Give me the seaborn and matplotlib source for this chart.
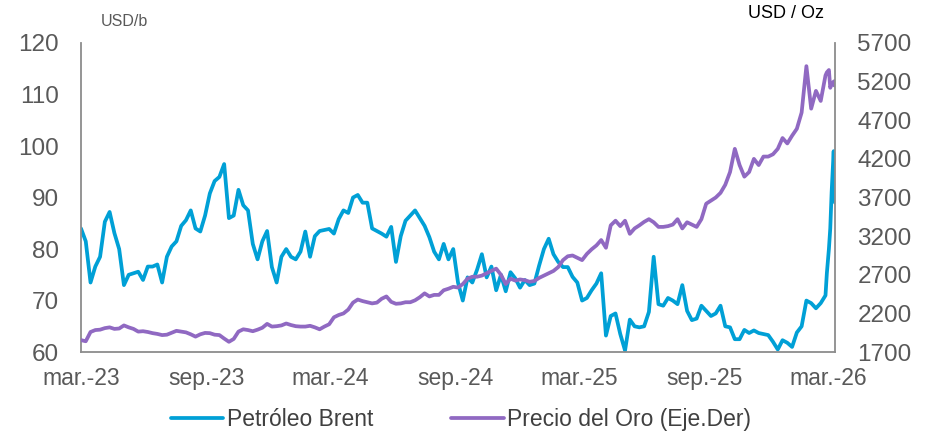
import matplotlib
matplotlib.use("Agg")
import matplotlib.pyplot as plt
import seaborn as sns
import pandas as pd
import numpy as np

# ---------------- data ----------------
brent_weekly = [
    84.0, 81.5, 73.5, 76.6, 78.5, 85.3, 87.2, 83.1, 80.0, 73.0,
    75.0, 75.3, 75.6, 74.0, 76.6, 76.6, 77.0, 73.5, 78.5, 80.5,
    81.5, 84.5, 85.6, 87.5, 84.0, 83.4, 86.5, 90.8, 93.2, 94.0,
    96.5, 86.0, 86.5, 91.5, 88.5, 87.5, 81.0, 78.0, 81.5, 83.5,
    76.5, 73.5, 78.5, 80.0, 78.5, 78.0, 79.5, 83.4, 78.5, 82.5,
    83.5, 83.7, 83.9, 83.0, 85.8, 87.5, 87.0, 90.0, 90.5, 89.0,
    89.0, 84.0, 83.5, 83.0, 82.4, 84.3, 77.5, 82.5, 85.5, 86.5,
    87.5, 86.0, 84.5, 82.3, 79.5, 78.0, 81.0, 78.0, 80.0, 73.5,
    70.0, 74.5, 73.5, 76.0, 79.0, 74.5, 76.6, 72.0, 75.0, 71.8,
    75.5, 74.3, 72.5, 74.0, 73.0, 73.3, 76.8, 80.0, 82.0, 79.0,
    77.5, 76.5, 76.5, 74.6, 73.5, 70.0, 70.5, 72.0, 73.3, 75.3,
    63.2, 67.0, 67.5, 63.5, 60.3, 66.3, 65.0, 64.8, 65.0, 67.8,
    78.5, 69.3, 69.0, 70.5, 70.0, 69.3, 73.0, 68.0, 66.2, 66.5,
    69.0, 68.0, 67.0, 67.5, 69.0, 65.0, 64.8, 62.5, 62.5, 64.3,
    63.7, 64.2, 63.7, 63.5, 63.3, 62.0, 60.5, 62.3, 61.8, 61.0,
    63.8, 65.0, 70.0, 69.5, 68.5, 69.5, 71.0,
]
gold_weekly = [
    1855, 1840, 1960, 1985, 1990, 2010, 2020, 2000, 2005, 2045,
    2020, 2000, 1965, 1970, 1960, 1945, 1935, 1920, 1925, 1950,
    1975, 1965, 1955, 1930, 1900, 1930, 1948, 1945, 1925, 1920,
    1875, 1833, 1870, 1965, 1995, 1985, 1970, 1990, 2015, 2065,
    2030, 2035, 2045, 2070, 2050, 2035, 2030, 2030, 2040, 2020,
    1995, 2030, 2060, 2150, 2180, 2200, 2250, 2340, 2380, 2360,
    2345, 2330, 2340, 2390, 2420, 2350, 2325, 2330, 2345, 2345,
    2370, 2410, 2460, 2420, 2440, 2440, 2500, 2520, 2545, 2535,
    2580, 2650, 2675, 2675, 2690, 2720, 2750, 2780, 2700, 2580,
    2650, 2625, 2640, 2630, 2610, 2620, 2660, 2690, 2720, 2750,
    2800, 2890, 2940, 2950, 2920, 2890, 2970, 3030, 3080, 3150,
    3050, 3340, 3400, 3330, 3400, 3230, 3300, 3340, 3385, 3420,
    3380, 3320, 3320, 3330, 3350, 3420, 3300, 3380, 3350, 3320,
    3420, 3620, 3660, 3700, 3760, 3865, 4030, 4330, 4120, 3970,
    4030, 4200, 4120, 4230, 4230, 4260, 4330, 4470, 4400, 4500,
    4590, 4800, 5400, 4850, 5080, 4950, 5280,
]
tail_dates = ["2026-02-27", "2026-03-02", "2026-03-04", "2026-03-06",
              "2026-03-09", "2026-03-10", "2026-03-11"]
brent_tail = [75.3, 80.0, 84.0, 91.0, 99.0, 93.0, 89.0]
gold_tail = [5320, 5350, 5120, 5170, 5200, 5150, 5210]

tick_dates = ["2023-03-01", "2023-09-01", "2024-03-01", "2024-09-01",
              "2025-03-01", "2025-09-01", "2026-03-01"]
tick_labels = ["mar.-23", "sep.-23", "mar.-24", "sep.-24",
               "mar.-25", "sep.-25", "mar.-26"]
left_ticks = [60, 70, 80, 90, 100, 110, 120]
right_ticks = [1700, 2200, 2700, 3200, 3700, 4200, 4700, 5200, 5700]

series_brent = "Petróleo Brent"
series_gold = "Precio del Oro (Eje.Der)"

# ---------------- build frame ----------------
dates = list(pd.date_range("2023-03-01", periods=len(brent_weekly), freq="7D")) + \
        list(pd.to_datetime(tail_dates))
df = pd.DataFrame({
    "date": dates,
    "brent": brent_weekly + brent_tail,
    "gold": gold_weekly + gold_tail,
})

sns.set_theme(style="white")
plt.rcParams["font.family"] = ["Liberation Sans", "DejaVu Sans"]

c_brent = "#00A0D6"
c_gold = "#9069C2"
gray = "#595959"

fig = plt.figure(figsize=(9.33, 4.32), dpi=100)
ax = fig.add_axes([0.0868, 0.185, 0.8082, 0.7155])
ax2 = ax.twinx()

sns.lineplot(data=df, x="date", y="brent", ax=ax, color=c_brent, lw=2.7,
             label=series_brent, legend=False)
sns.lineplot(data=df, x="date", y="gold", ax=ax2, color=c_gold, lw=2.7,
             label=series_gold, legend=False)

ax.set_xlim(pd.Timestamp("2023-03-01"), pd.Timestamp("2026-03-11"))
ax.set_ylim(60, 120)
ax2.set_ylim(1700, 5700)
ax.set_yticks(left_ticks)
ax2.set_yticks(right_ticks)
ax.set_xticks(pd.to_datetime(tick_dates))
ax.set_xticklabels(tick_labels)

for a in (ax, ax2):
    a.set_xlabel("")
    a.set_ylabel("")
    a.grid(False)
    for s in a.spines.values():
        s.set_visible(False)

ax.spines["left"].set_visible(True)
ax.spines["bottom"].set_visible(True)
ax2.spines["right"].set_visible(True)
for s in (ax.spines["left"], ax.spines["bottom"], ax2.spines["right"]):
    s.set_color("#8C8C8C")
    s.set_linewidth(1.3)

ax.tick_params(axis="y", length=0, pad=16, labelsize=17.5, labelcolor=gray)
ax2.tick_params(axis="y", length=0, pad=16, labelsize=17.5, labelcolor=gray)
ax.tick_params(axis="x", length=0, pad=11, labelsize=16.5, labelcolor=gray)

fig.text(124 / 933, 1 - 21 / 432, "USD/b", fontsize=11.5, color=gray,
         ha="center", va="center")
fig.text(786 / 933, 1 - 14 / 432, "USD / Oz", fontsize=13, color="black",
         ha="center", va="center")

handles = ax.get_lines()[:1] + ax2.get_lines()[:1]
fig.legend(handles, [series_brent, series_gold], loc="center",
           bbox_to_anchor=(0.494, 0.030), ncol=2, frameon=False,
           fontsize=16.5, handlelength=2.3, handletextpad=0.15,
           columnspacing=3.4, labelcolor="#404040")

fig.savefig("out.png", dpi=100)
